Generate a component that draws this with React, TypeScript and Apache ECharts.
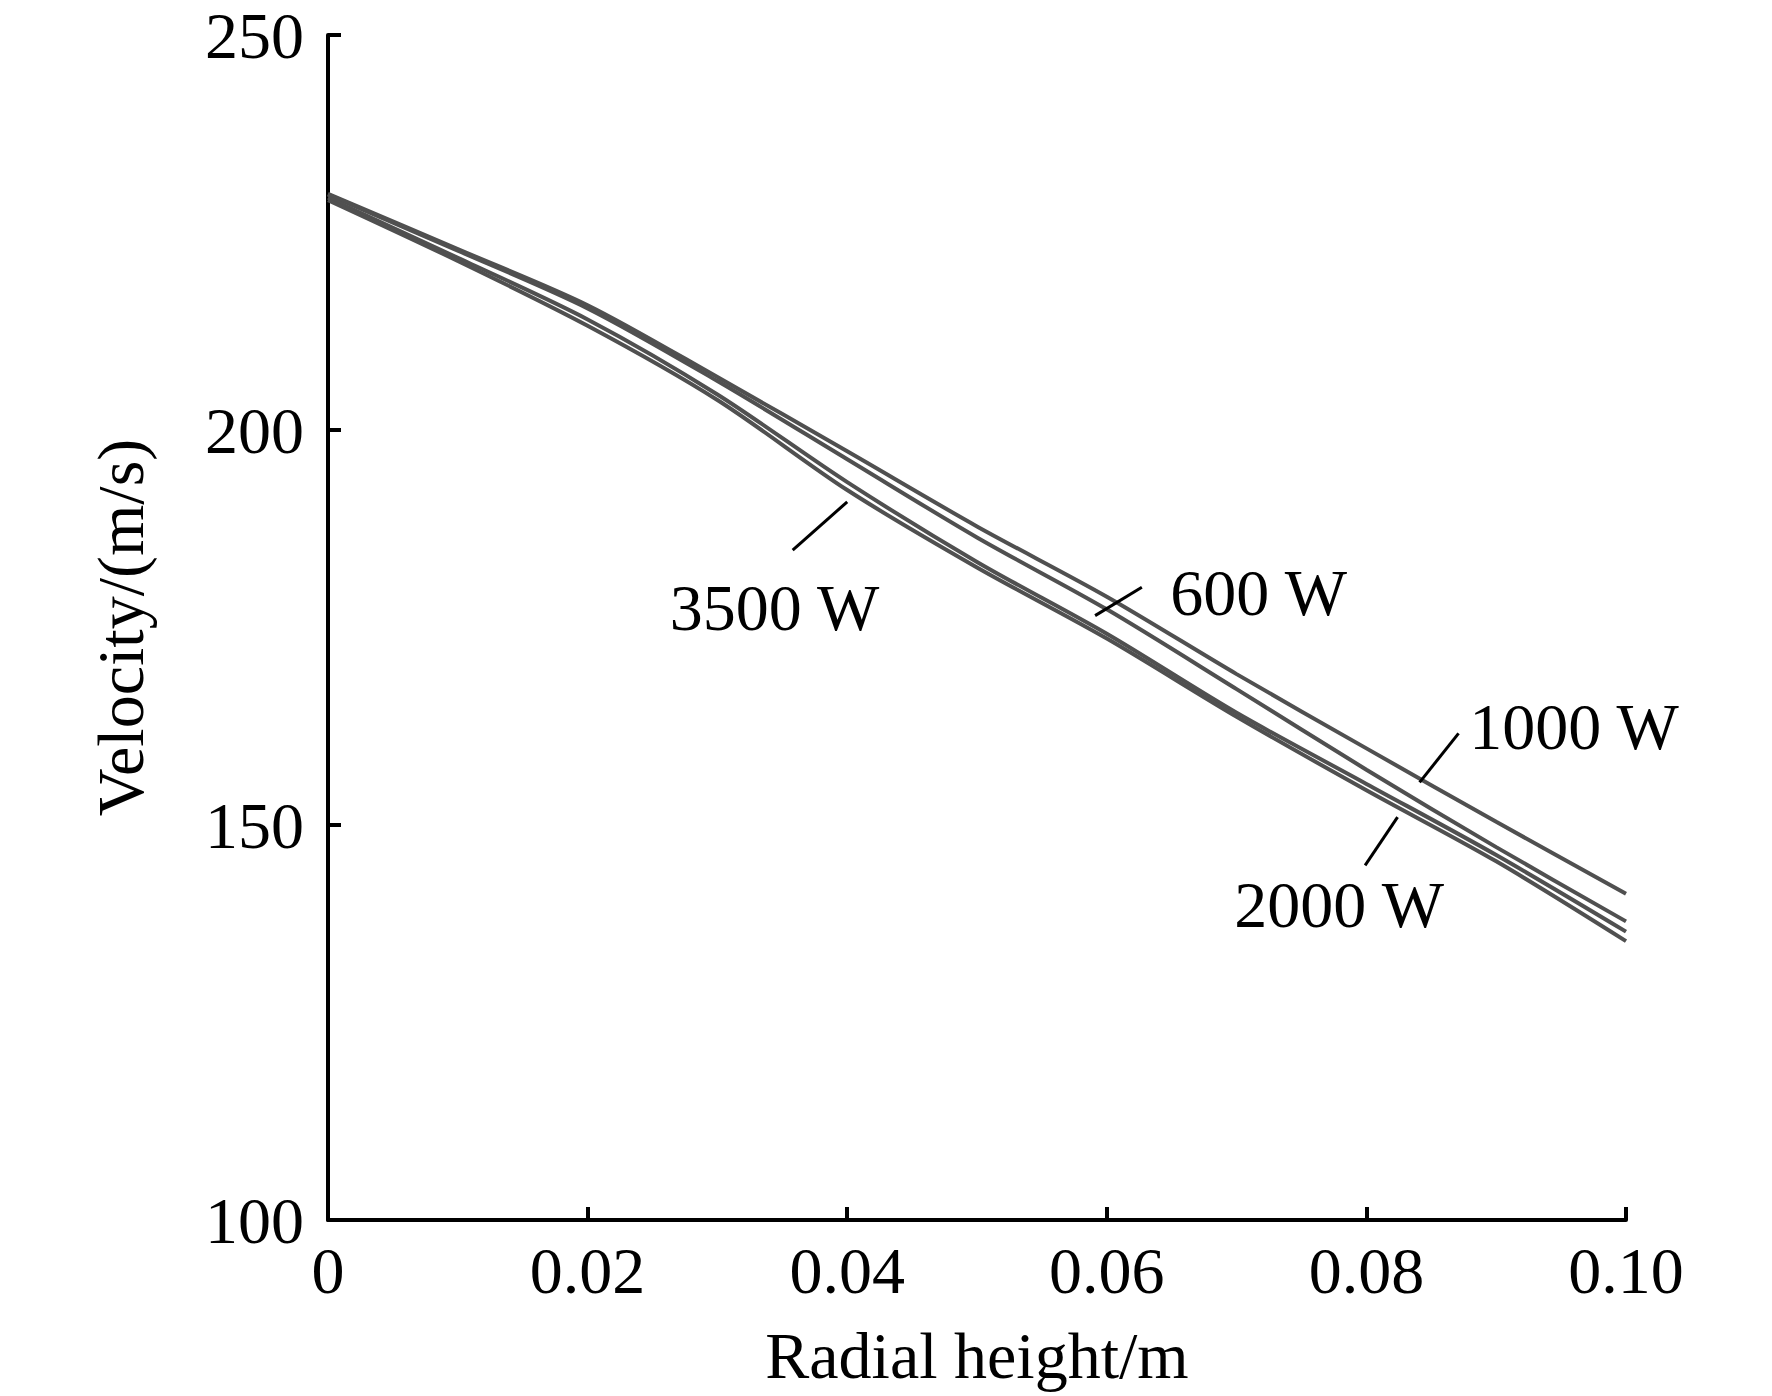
import React, { useEffect, useRef } from "react";
import * as echarts from "echarts";

const xValues = [0, 0.01, 0.02, 0.03, 0.04, 0.05, 0.06, 0.07, 0.08, 0.09, 0.1];
const v1000 = [229.9, 222.9, 215.8, 206.7, 197.3, 187.8, 178.9, 169.1, 159.7, 150.4, 141.3];
const v600 = [229.8, 222.7, 215.4, 206.2, 196.3, 186.4, 177.3, 167.2, 157.0, 147.2, 137.8];
const v2000 = [229.4, 221.8, 214.0, 204.5, 193.4, 183.3, 174.2, 164.2, 155.2, 146.2, 136.5];
const v3500 = [229.1, 221.4, 213.2, 203.8, 192.4, 182.6, 173.6, 163.7, 154.4, 145.4, 135.3];

const seriesNames = ["1000 W", "600 W", "2000 W", "3500 W"];
const seriesValues = [v1000, v600, v2000, v3500];

// label anchor [x, y, text]
const labelPoints: [number, number, string][] = [
  [0.0344, 177.5, "3500 W"],
  [0.0717, 179.4, "600 W"],
  [0.096, 162.5, "1000 W"],
  [0.0779, 139.9, "2000 W"],
];

// leader lines [[x1, y1], [x2, y2]]
const leaders: [number, number][][] = [
  [[0.0358, 184.8], [0.04, 190.9]],
  [[0.0591, 176.5], [0.0627, 180.1]],
  [[0.0841, 155.4], [0.0871, 161.6]],
  [[0.0799, 144.9], [0.0824, 151.0]],
];

const FONT = "'Liberation Serif', 'Times New Roman', serif";

export default function App() {
  const ref = useRef<HTMLDivElement>(null);
  useEffect(() => {
    document.body.style.margin = "0";
    if (!ref.current) return;
    const chart = echarts.init(ref.current, undefined, { renderer: "svg" });
    const curveSeries = seriesValues.map((vals, i) => ({
      name: seriesNames[i],
      type: "line",
      data: vals.map((v, j) => [xValues[j], v]),
      smooth: 0.3,
      showSymbol: false,
      symbol: "none",
      lineStyle: { color: "#505050", width: 4 },
      silent: true,
      z: 2,
    }));
    const leaderSeries = leaders.map((seg, i) => ({
      name: "leader" + i,
      type: "line",
      data: seg,
      showSymbol: false,
      symbol: "none",
      lineStyle: { color: "#000000", width: 3 },
      silent: true,
      z: 3,
    }));
    const option = {
      animation: false,
      backgroundColor: "#ffffff",
      grid: { left: 328, top: 35, width: 1298, height: 1185, containLabel: false },
      xAxis: {
        type: "value",
        min: 0,
        max: 0.1,
        interval: 0.02,
        name: "Radial height/m",
        nameLocation: "middle",
        nameGap: 102,
        nameTextStyle: { fontFamily: FONT, fontSize: 66, color: "#000" },
        axisLine: { show: true, onZero: false, lineStyle: { color: "#000", width: 4 } },
        axisTick: { show: true, inside: true, length: 13, lineStyle: { color: "#000", width: 4 } },
        axisLabel: {
          fontFamily: FONT,
          fontSize: 66,
          color: "#000",
          margin: 17,
          formatter: (v: number) => (v === 0 ? "0" : v.toFixed(2)),
        },
        splitLine: { show: false },
      },
      yAxis: {
        type: "value",
        min: 100,
        max: 250,
        interval: 50,
        name: "Velocity/(m/s)",
        nameLocation: "middle",
        nameGap: 175,
        nameTextStyle: { fontFamily: FONT, fontSize: 66, color: "#000" },
        axisLine: { show: true, onZero: false, lineStyle: { color: "#000", width: 4 } },
        axisTick: { show: true, inside: true, length: 13, lineStyle: { color: "#000", width: 4 } },
        axisLabel: { fontFamily: FONT, fontSize: 66, color: "#000", margin: 24 },
        splitLine: { show: false },
      },
      series: [
        ...curveSeries,
        ...leaderSeries,
        {
          name: "labels",
          type: "scatter",
          symbolSize: 0,
          silent: true,
          itemStyle: { color: "#000000", opacity: 1 },
          data: labelPoints.map((p) => ({ value: [p[0], p[1]], name: p[2] })),
          label: {
            show: true,
            position: "inside",
            formatter: (p: any) => p.name,
            fontFamily: FONT,
            fontSize: 66,
            color: "#000000",
            opacity: 1,
          },
          z: 4,
        },
      ],
    };
    chart.setOption(option as any);
    return () => chart.dispose();
  }, []);
  return <div ref={ref} style={{ width: 1772, height: 1396 }} />;
}
